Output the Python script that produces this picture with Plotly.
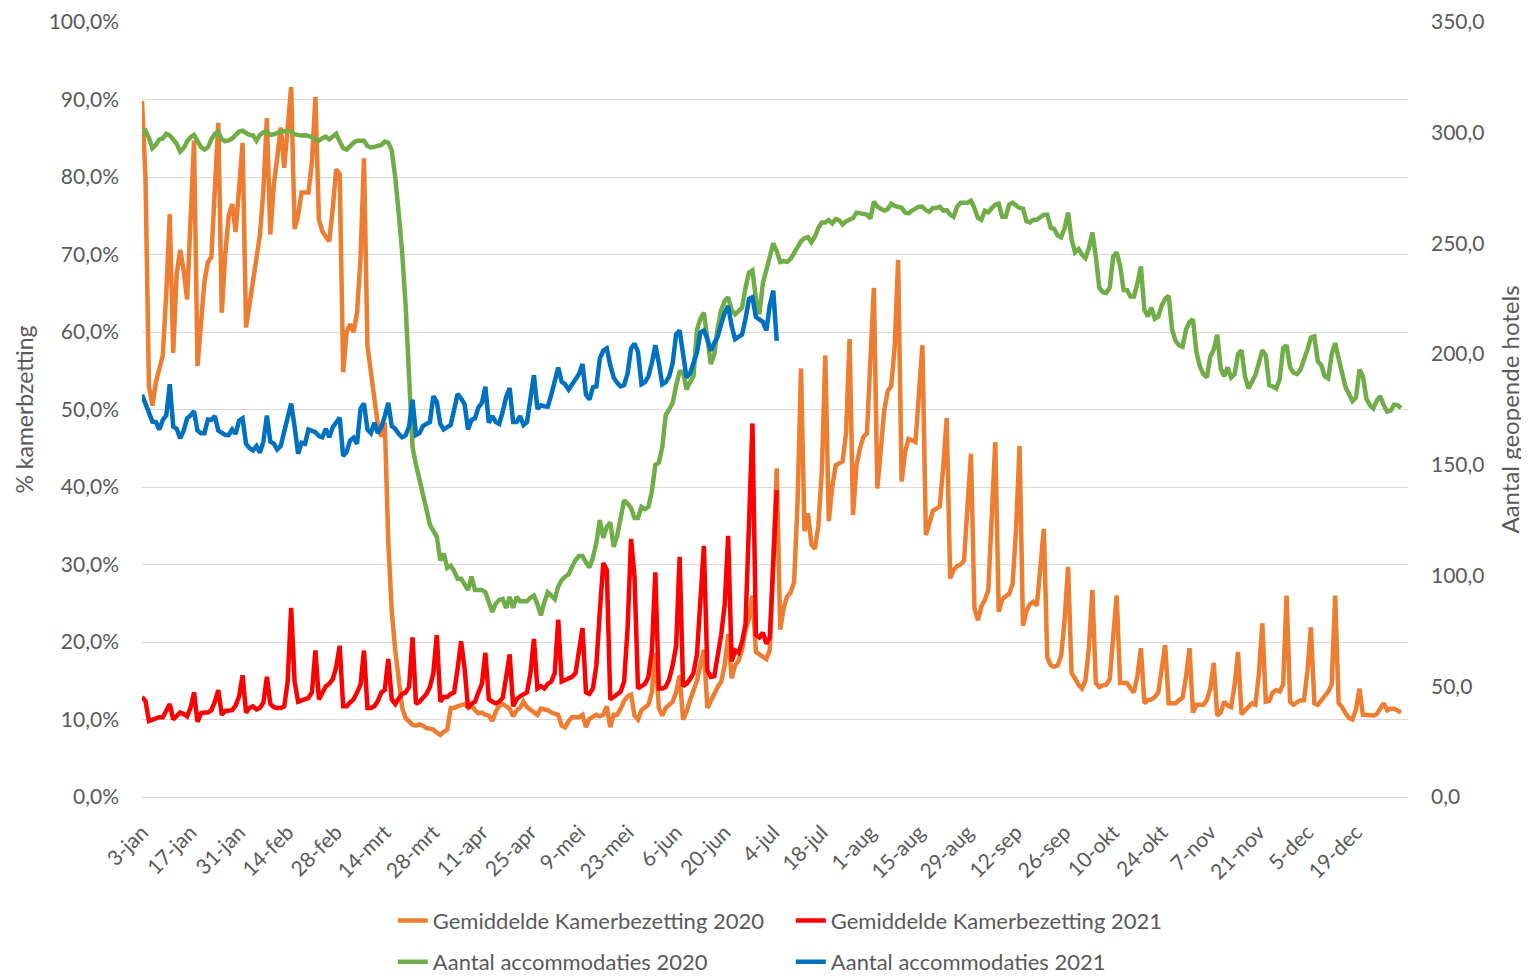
import pandas as pd
import plotly.graph_objects as go

# ---------------- data ----------------
start_2020 = "2020-01-03"

tick_labels = ["3-jan", "17-jan", "31-jan", "14-feb", "28-feb", "14-mrt", "28-mrt", "11-apr",
               "25-apr", "9-mei", "23-mei", "6-jun", "20-jun", "4-jul", "18-jul", "1-aug",
               "15-aug", "29-aug", "12-sep", "26-sep", "10-okt", "24-okt", "7-nov", "21-nov",
               "5-dec", "19-dec"]

# Gemiddelde Kamerbezetting 2020 (%)
bezetting_2020 = [
    89.8, 80, 53, 50.5, 53.5, 55.5, 57, 65, 75.2, 57.3,
    67.5, 70.6, 68, 64.2, 74, 84.7, 55.6, 62, 66.5, 69,
    69.7, 78.4, 87, 62.5, 70, 75, 76.5, 72.9, 79, 84.4,
    60.6, 63.5, 67, 69, 72.5, 78.3, 87.6, 72.6, 79, 82.5,
    86.4, 81.2, 86, 91.6, 73.3, 75, 78, 78, 78, 82,
    90.3, 74.5, 73, 72.3, 71.7, 76, 81, 80.4, 54.8, 60,
    61, 60, 62.5, 69.5, 82.4, 58.2, 54.5, 51.5, 48, 46.5,
    48.3, 33, 24, 19, 14.9, 11.5, 10.2, 9.8, 9.3, 9.2,
    9.4, 9.2, 8.9, 8.8, 8.7, 8.3, 8.0, 8.4, 8.7, 11.5,
    11.5, 11.7, 11.9, 12, 11.5, 11.8, 11.2, 10.8, 10.9, 10.6,
    10.5, 9.8, 11, 11.8, 12, 11.7, 11.4, 10.4, 11.2, 11.5,
    12.3, 11.6, 11.3, 10.9, 10.6, 11.4, 11.3, 11.2, 10.9, 10.8,
    10.6, 9.2, 9.0, 9.8, 10.3, 10.3, 10.3, 10.6, 9.0, 10.1,
    10.4, 10.6, 10.4, 10.6, 11.7, 9.0, 10.6, 10.6, 11.4, 12.4,
    13.0, 13.2, 10.5, 10.0, 11.2, 11.5, 11.9, 13.5, 18.6, 11.5,
    10.5, 11.5, 12, 12.3, 13.5, 15.7, 10, 11, 12.5, 13.8,
    15, 17, 19, 11.5, 12.5, 13.3, 14.2, 14.9, 17, 21,
    15.3, 17, 17.6, 19, 21.6, 23, 26, 18.7, 18.4, 18.2,
    17.8, 19, 30, 42.4, 21.6, 24.4, 25.9, 26.4, 27.7, 38,
    55.3, 34.3, 36.6, 32.6, 32, 35, 42, 57, 35.6, 40,
    42.8, 43, 43.3, 47, 59.1, 36.4, 42.8, 45, 46.5, 46.9,
    55, 65.7, 39.8, 45.6, 49.9, 52.4, 53, 58, 69.3, 40.7,
    44.5, 46.2, 46, 45.8, 52, 58.3, 33.8, 35.5, 36.9, 37.2,
    37.5, 42.6, 48.9, 28.2, 29.3, 29.8, 30, 30.5, 37.7, 44.3,
    24.4, 22.8, 24.6, 25.4, 26.7, 36.2, 45.8, 23.9, 25.5, 25.9,
    26.2, 27.5, 34.5, 45.3, 22.1, 24, 24.9, 25.2, 24.7, 29.6,
    34.6, 18, 17, 16.8, 17, 18.2, 22.9, 29.7, 16, 15.3,
    14.5, 14, 15, 19.3, 26.7, 14.7, 14.2, 14.4, 14.5, 15.2,
    20, 26, 14.7, 14.7, 14.7, 14, 13.5, 15.7, 19.2, 12.1,
    12.5, 12.6, 12.9, 13.5, 16.3, 19.6, 12.1, 12.1, 12.1, 12.5,
    12.8, 15.5, 19.2, 10.9, 11.9, 11.9, 11.9, 12.5, 14, 17.3,
    10.5, 10.9, 12.3, 11.8, 11.6, 14.4, 18.7, 10.7, 11.2, 11.6,
    12.1, 11.9, 15.8, 22.4, 12.3, 12.4, 13.5, 13.8, 13.6, 14.5,
    26, 12.3, 11.9, 12.2, 12.5, 12.5, 16.2, 21.9, 12.1, 11.9,
    12.5, 13, 13.6, 14.5, 26, 12.1, 11.6, 10.8, 10.2, 10,
    11.3, 14, 10.6, 10.6, 10.6, 10.5, 10.7, 11.5, 12.1, 11.2,
    11.4, 11.4, 11.2, 10.9,
]

# Gemiddelde Kamerbezetting 2021 (%)
bezetting_2021 = [
    12.9, 12.4, 9.8, 10, 10.2, 10.3, 10.3, 11.2, 12, 10,
    10.5, 10.9, 10.7, 10.4, 11.5, 13.5, 9.7, 10.8, 10.9, 10.9,
    11.2, 12.3, 13.8, 10.6, 11.1, 11.2, 11.2, 11.8, 13, 15.7,
    10.9, 11.5, 11.7, 11.3, 11.5, 12.2, 15.5, 12, 11.6, 11.5,
    11.5, 11.7, 14.9, 24.4, 14.9, 12.3, 12.5, 12.6, 12.8, 13.5,
    18.9, 12.6, 13.5, 14.3, 14.6, 15.2, 16.8, 19.5, 11.7, 11.7,
    12.2, 12.6, 13.5, 14.5, 18.9, 11.5, 11.5, 11.7, 12.4, 13.5,
    13.8, 17.8, 12.6, 12, 12.7, 13.3, 13.5, 14.2, 20.6, 12,
    12.3, 12.9, 13.3, 14.2, 16, 20.9, 12.3, 12.9, 12.9, 13.3,
    13.5, 16.6, 20.1, 16.6, 11.5, 12, 12.3, 13.5, 14.6, 18.6,
    12.6, 12.3, 12.1, 12.3, 12.8, 15.5, 18.4, 11.7, 12.6, 13,
    13.2, 13.5, 16, 20.4, 14, 14.3, 14, 14.6, 14.9, 16,
    22.9, 14.9, 15.1, 15.3, 15.5, 16, 18.9, 21.8, 13.5, 13.3,
    14, 17, 24, 30.2, 29.3, 12.6, 12.9, 13.2, 13.6, 14.9,
    21.8, 33.3, 28.4, 14, 14.3, 14.6, 15.5, 18.9, 29, 14,
    14, 14.2, 15.2, 17, 19.5, 31, 14.3, 14.6, 15.2, 16,
    18.4, 25, 32.4, 16.3, 15.5, 15.6, 18.4, 21, 24.8, 33.7,
    17.5, 18.9, 18.6, 20, 22.3, 36.3, 48.2, 20.9, 20.6, 21.2,
    19.8, 20.6, 31, 39.6,
]

# Aantal accommodaties 2020
accommodaties_2020 = [
    300.5, 301, 297.6, 293, 294.5, 297, 297.4, 299.5, 298.8, 297,
    295, 291.5, 293, 296, 298, 299, 296, 293.5, 292.4, 293.4,
    297, 299.5, 300.5, 297, 296.2, 296.5, 297.4, 299, 300.5, 300.9,
    299.8, 299, 298.9, 296.4, 299, 300.2, 300.5, 299, 299.3, 300,
    300.5, 300.8, 300.9, 300.5, 299.3, 298.8, 298.7, 298.9, 298.6, 298,
    297, 296.4, 297.5, 298.2, 297, 298.5, 299.5, 296, 293, 292.4,
    294, 295.5, 296.4, 296.4, 296.4, 294, 293.4, 293.6, 293.8, 294.5,
    296, 295.5, 292, 280, 264, 246, 222, 186, 158, 150,
    144, 138, 130, 123, 120, 117.5, 106.8, 110, 103.5, 104.5,
    102, 98.6, 98.6, 96, 93.5, 99.5, 93.5, 93.5, 93.5, 92.5,
    88, 83.6, 87.4, 89, 89.4, 85.4, 90.4, 85.4, 90.4, 88.4,
    88.4, 88.4, 90, 91, 87, 82, 88, 92.5, 91, 89.4,
    95, 98, 99.5, 100.6, 104, 107, 108.8, 108.8, 106, 103.7,
    108, 114.8, 125, 117, 122, 124, 113, 118, 126, 134,
    132.5, 130.5, 126, 126, 131, 130, 131, 138, 150, 151,
    158, 172.5, 175, 178, 186, 192, 192, 184, 187.4, 190,
    211, 216, 218.7, 208, 195.5, 200, 212, 220, 224, 225.7,
    220, 218, 219.5, 221, 230, 236.8, 237.8, 225, 218, 232,
    238, 245, 250, 246.5, 241.6, 242, 241.6, 243, 246, 249,
    251, 252.3, 252.8, 250.5, 253, 257, 259.5, 259.5, 260.5, 259,
    261, 260.5, 258.6, 260, 261, 261.5, 263.9, 263.6, 263.5, 263,
    261.2, 268.9, 266.6, 265.5, 264.8, 265.5, 267.9, 267, 266.6, 266.1,
    264, 263.6, 264.8, 266, 266.6, 266.6, 265, 264.3, 266, 266,
    266.6, 264.8, 265, 263, 262, 266.6, 268.4, 268.4, 268.4, 269.3,
    266, 261.5, 260.7, 264.8, 264, 266, 267.5, 268, 262, 262,
    267.5, 268.4, 267, 266, 265.7, 260, 259.5, 260.7, 260.7, 262,
    263, 263, 257.1, 256.5, 253.6, 252.8, 257, 263.9, 252, 246,
    247.5, 245, 243.4, 247.9, 255, 244, 230, 228, 227.6, 230,
    244, 246, 240, 229, 228.9, 226, 226, 232, 239.6, 220,
    217, 221, 216, 217, 222, 225, 226.4, 211, 206, 204,
    203.4, 211, 214.5, 215.7, 201, 194.4, 191, 189.5, 199, 202,
    208.8, 193.6, 190, 194, 189.5, 191, 200, 201.8, 190, 184.5,
    188, 190.5, 196, 201.8, 199.4, 186, 185.4, 184.5, 188.7, 202.6,
    204, 194, 191.6, 191, 193, 197, 202, 207.5, 208, 196.8,
    195, 190, 189, 200, 205, 198, 191, 185, 182, 178.8,
    180.4, 193, 190, 180, 177, 175.5, 179, 181, 177, 174,
    174.5, 177.2, 177, 175.6,
]

# Aantal accommodaties 2021
accommodaties_2021 = [
    181.7, 178, 173, 169.5, 169.3, 166, 170.3, 172.3, 186.4, 167.3,
    166.3, 162, 165.3, 171, 172.3, 174.3, 165.5, 164.3, 164.3, 170.5,
    170.3, 172, 165.5, 164.3, 163.5, 163.5, 166, 164, 170, 171,
    159.5, 157.6, 156.5, 158.5, 155.5, 160.5, 172.3, 160.5, 159.6, 157,
    158.5, 165, 172, 177.7, 167.3, 155, 160, 159.5, 166, 165.5,
    164.8, 163, 162.5, 166.3, 162.5, 167, 169.3, 171.3, 154, 156,
    161, 162.3, 159.5, 175.3, 177.7, 166, 164.3, 169, 164.3, 167,
    172, 178, 167.5, 166.3, 164, 162.5, 163.3, 167.3, 179.4, 163.5,
    164.3, 167.5, 168.5, 169.3, 181, 178.4, 168.5, 166, 167, 168,
    175, 182, 180, 177.5, 166, 170.3, 171, 176, 178, 185.3,
    169, 172, 169.3, 168.5, 174, 180.7, 184.7, 169.3, 169.3, 172,
    168, 169.3, 180, 190.5, 175.3, 176.9, 176.5, 176.3, 181.7, 187,
    193.9, 187.5, 186.4, 184, 186.5, 189.4, 191, 195.6, 181.7, 179.5,
    185, 185.4, 198, 201.6, 202.6, 195, 189.4, 187, 185.4, 186,
    191.3, 202.6, 204.8, 201, 186.4, 187.4, 190, 196, 204, 196,
    186.4, 187.4, 190, 196, 209, 210.7, 198, 189.4, 191.3, 196.5,
    200.6, 209.8, 210.7, 206.8, 201.6, 205, 208, 213.7, 218.7, 221.7,
    212.7, 206.8, 207.7, 208.8, 216, 225, 225.7, 216.7, 215.7, 214.6,
    210.7, 222, 228.7, 206,
]

# ---------------- figure ----------------
days = pd.date_range(start_2020, periods=len(bezetting_2020), freq="D")
days_21 = days[:len(bezetting_2021)]
tick_dates = pd.date_range(start_2020, periods=len(tick_labels), freq="14D")

GREY = "#595959"
FONT = "Lato"
LW = 4.5

fig = go.Figure()
fig.add_trace(go.Scatter(x=days, y=bezetting_2020, name="Gemiddelde Kamerbezetting 2020",
                         mode="lines", line=dict(color="#ED7D31", width=LW), legend="legend"))
fig.add_trace(go.Scatter(x=days_21, y=bezetting_2021, name="Gemiddelde Kamerbezetting 2021",
                         mode="lines", line=dict(color="#FF0000", width=LW), legend="legend"))
fig.add_trace(go.Scatter(x=days, y=accommodaties_2020, name="Aantal accommodaties 2020",
                         mode="lines", line=dict(color="#70AD47", width=LW), yaxis="y2",
                         legend="legend2"))
fig.add_trace(go.Scatter(x=days_21, y=accommodaties_2021, name="Aantal accommodaties 2021",
                         mode="lines", line=dict(color="#0070C0", width=LW), yaxis="y2",
                         legend="legend2"))

legend_common = dict(orientation="h", xanchor="left", yanchor="middle",
                     xref="container", yref="container",
                     entrywidth=353, entrywidthmode="pixels",
                     font=dict(family=FONT, size=22, color=GREY),
                     bgcolor="rgba(0,0,0,0)", traceorder="normal")

fig.update_layout(
    width=1521, height=968,
    margin=dict(l=134, r=121, t=14, b=179, autoexpand=False),
    paper_bgcolor="white", plot_bgcolor="white",
    separators=",.",
    font=dict(family=FONT, color=GREY, size=21),
    showlegend=True,
    legend=dict(x=0.253, y=0.057, **legend_common),
    legend2=dict(x=0.253, y=0.0145, **legend_common),
    xaxis=dict(
        range=[days[0], days[0] + pd.Timedelta(days=365)],
        tickvals=tick_dates, ticktext=tick_labels, tickangle=-45,
        showgrid=False, zeroline=False, showline=False, ticks="",
        tickfont=dict(family=FONT, size=21, color=GREY),
        ticklabelstandoff=18, automargin=False,
    ),
    yaxis=dict(
        range=[0, 100], dtick=10, tick0=0, tickformat=".1f", ticksuffix="%",
        showgrid=True, gridcolor="#d9d9d9", gridwidth=1.3,
        zeroline=True, zerolinecolor="#d9d9d9", zerolinewidth=1.3,
        showline=False, ticks="", automargin=False,
        tickfont=dict(family=FONT, size=21, color=GREY),
        ticklabelstandoff=22,
        title=dict(text="% kamerbzetting", font=dict(family=FONT, size=23, color=GREY),
                   standoff=8),
    ),
    yaxis2=dict(
        range=[0, 350], dtick=50, tick0=0, tickformat=".1f",
        overlaying="y", side="right", showgrid=False, zeroline=False,
        showline=False, ticks="", automargin=False,
        tickfont=dict(family=FONT, size=21, color=GREY),
        ticklabelstandoff=22,
        title=dict(text="Aantal geopende hotels", font=dict(family=FONT, size=24, color=GREY),
                   standoff=18),
    ),
)

fig.write_html("out.html")
